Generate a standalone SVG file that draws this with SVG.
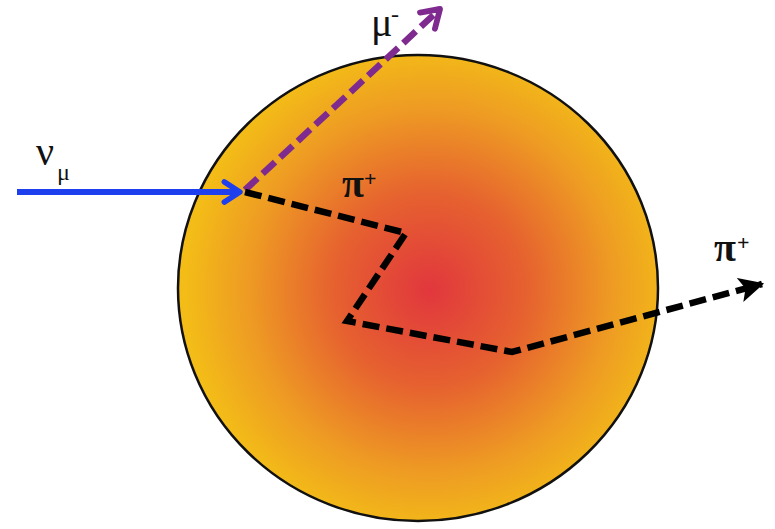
<svg xmlns="http://www.w3.org/2000/svg" width="775" height="529" viewBox="0 0 775 529">
<defs>
<radialGradient id="nuc" cx="430" cy="290" r="245" gradientUnits="userSpaceOnUse">
<stop offset="0" stop-color="#E1373D"/>
<stop offset="0.4" stop-color="#E6622F"/>
<stop offset="0.75" stop-color="#EE9C23"/>
<stop offset="1" stop-color="#F3BC17"/>
</radialGradient>
<marker id="hb" viewBox="0 0 12 12" refX="9" refY="6" markerWidth="4.5" markerHeight="4.5" markerUnits="strokeWidth" orient="auto">
<path d="M2,1.5 L9,6 L2,10.5" fill="none" stroke="#1E3FEE" stroke-width="2.4" stroke-linecap="round" stroke-linejoin="round"/>
</marker>
<marker id="hp" viewBox="0 0 12 12" refX="9" refY="6" markerWidth="4.5" markerHeight="4.5" markerUnits="strokeWidth" orient="auto">
<path d="M2,1.5 L9,6 L2,10.5" fill="none" stroke="#7E2A8E" stroke-width="2.4" stroke-linecap="round" stroke-linejoin="round"/>
</marker>
<marker id="hk" viewBox="0 0 12 12" refX="10" refY="6" markerWidth="4.2" markerHeight="4.2" markerUnits="strokeWidth" orient="auto">
<path d="M0,0.5 L11,6 L0,11.5 L2.5,6 Z" fill="#000"/>
</marker>
</defs>
<style>
.lbl{font-family:"Liberation Serif","DejaVu Serif",serif;fill:#111}
.dash{fill:none;stroke-width:6.5;stroke-dasharray:17 7}
</style>
<g id="nucleus">
<ellipse cx="418" cy="288" rx="240" ry="233" fill="url(#nuc)" stroke="#111" stroke-width="2.5"/>
</g>
<g id="connectors">
<line x1="17" y1="192" x2="240" y2="192" stroke="#1E3FEE" stroke-width="6" marker-end="url(#hb)"/>
<line x1="245" y1="190" x2="440" y2="9" class="dash" stroke="#7E2A8E" marker-end="url(#hp)"/>
<polyline points="245,192 406,233 347,321 512,352 762,284" class="dash" stroke="#000" stroke-linejoin="miter" marker-end="url(#hk)"/>
</g>
<g id="label-numu">
<text x="36" y="165" class="lbl" font-size="40">ν</text>
<text x="57" y="180" class="lbl" font-size="24">μ</text>
</g>
<g id="label-mu">
<text x="371" y="36" class="lbl" font-size="40">μ</text>
<text x="391" y="22" class="lbl" font-size="24">-</text>
</g>
<g id="label-pi1">
<text x="342" y="197" class="lbl" font-size="40" font-weight="bold">π</text>
<text x="364" y="186" class="lbl" font-size="22" font-weight="bold">+</text>
</g>
<g id="label-pi2">
<text x="714" y="261" class="lbl" font-size="40" font-weight="bold">π</text>
<text x="737" y="250" class="lbl" font-size="22" font-weight="bold">+</text>
</g>
</svg>
